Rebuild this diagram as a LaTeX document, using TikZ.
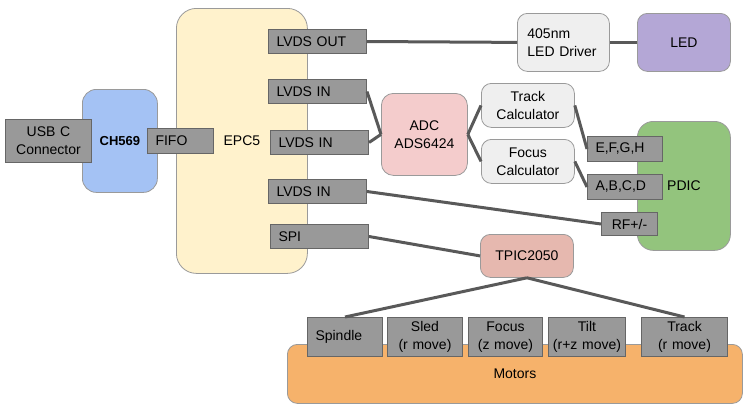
\documentclass[tikz,border=0pt]{standalone}
\usepackage{fontspec}
\setmainfont{Liberation Sans}
\definecolor{boxgray}{HTML}{999999}
\definecolor{boxborder}{HTML}{666666}
\definecolor{wirecol}{HTML}{595959}
\definecolor{rborder}{HTML}{9a9a9a}
\definecolor{cblue}{HTML}{A4C2F4}
\definecolor{cyellow}{HTML}{FFF2CC}
\definecolor{clight}{HTML}{EFEFEF}
\definecolor{cpurple}{HTML}{B4A7D6}
\definecolor{cpink}{HTML}{F4CCCC}
\definecolor{cgreen}{HTML}{93C47D}
\definecolor{cred}{HTML}{E6B8AF}
\definecolor{corange}{HTML}{F6B26B}
\tikzset{
  base/.style={anchor=north west, inner ysep=0pt, font=\fontsize{14}{18}\selectfont},
  gbox/.style={base, draw=boxborder, fill=boxgray, line width=1pt},
  gleft/.style={gbox, inner xsep=8pt, align=left},
  gcent/.style={gbox, inner xsep=0pt, align=center},
  rbox/.style={base, draw=rborder, line width=0.8pt, rounded corners=10pt, inner xsep=0pt, align=center},
  wire/.style={draw=wirecol, line width=3pt}
}
\begin{document}
\begin{tikzpicture}[x=1pt,y=-1pt]
\useasboundingbox (0,0) rectangle (744,405);
% big blocks
\node[rbox, fill=cyellow, rounded corners=20pt, minimum width=131pt, minimum height=265pt, text width=131pt] (epc) at (176,8) {EPC5};
\node[rbox, fill=cblue, rounded corners=14pt, minimum width=75pt, minimum height=103pt, text width=75pt, font=\fontsize{13}{16}\selectfont\bfseries] (ch) at (82,89) {\raisebox{-5pt}{CH569}};
\node[gcent, minimum width=86pt, minimum height=43pt, text width=86pt] (usb) at (5,119) {USB C\\Connector};
\node[gleft, minimum height=25pt, text width=50pt] (fifo) at (147,128) {FIFO};
\node[gleft, minimum height=24pt, text width=82pt] (lvdsout) at (268,29) {LVDS OUT};
\node[gleft, minimum height=24pt, text width=82pt] (lvdsina) at (268,79) {LVDS IN};
\node[gleft, minimum height=24pt, text width=82pt] (lvdsinb) at (270,130) {LVDS IN};
\node[gleft, minimum height=24pt, text width=82pt] (lvdsinc) at (268,179) {LVDS IN};
\node[gleft, minimum height=24pt, text width=82pt] (spi) at (270,224) {SPI};
% right side
\node[rbox, fill=clight, minimum height=58pt, text width=72pt, inner xsep=10pt, align=left] (drv) at (517,13) {405nm\\LED Driver};
\node[rbox, fill=cpurple, minimum width=93pt, minimum height=58pt, text width=93pt] (led) at (637,13) {LED};
\node[rbox, fill=cpink, rounded corners=12pt, minimum width=86pt, minimum height=82pt, text width=86pt] (adc) at (381,93) {ADC\\ADS6424};
\node[rbox, fill=clight, minimum width=93pt, minimum height=44pt, text width=93pt] (trk) at (481,83) {Track\\Calculator};
\node[rbox, fill=clight, minimum width=93pt, minimum height=44pt, text width=93pt] (foc) at (481,139) {Focus\\Calculator};
\node[rbox, fill=cgreen, rounded corners=16pt, minimum width=93pt, minimum height=129pt, text width=93pt] (pdic) at (637,121) {\raisebox{-5pt}{PDIC}};
\node[gleft, minimum height=25pt, text width=59pt] (efgh) at (587,136) {E,F,G,H};
\node[gleft, minimum height=25pt, text width=59pt] (abcd) at (587,174) {A,B,C,D};
\node[gcent, minimum width=56pt, minimum height=23pt, text width=56pt] (rf) at (601,212) {RF+/-};
\node[rbox, fill=cred, minimum width=93pt, minimum height=43pt, text width=93pt] (tpic) at (480,234) {TPIC2050};
% motors
\node[rbox, fill=corange, minimum width=455pt, minimum height=59pt, text width=455pt] (motors) at (287,344) {\raisebox{-4pt}{Motors}};
\node[gleft, minimum height=39pt, text width=59pt] (spindle) at (307,317) {Spindle};
\node[gcent, minimum width=75pt, minimum height=39pt, text width=75pt] (sled) at (387,317) {Sled\\(r move)};
\node[gcent, minimum width=74pt, minimum height=39pt, text width=74pt] (focus) at (468,317) {Focus\\(z move)};
\node[gcent, minimum width=77pt, minimum height=39pt, text width=77pt] (tilt) at (548,317) {Tilt\\(r+z move)};
\node[gcent, minimum width=86pt, minimum height=39pt, text width=86pt] (track) at (641,317) {Track\\(r move)};
% wires
\draw[wire] (lvdsout.east) -- (drv.west);
\draw[wire] (drv.east) -- (led.west);
\draw[wire] (lvdsina.east) -- (adc.west);
\draw[wire] (lvdsinb.east) -- (adc.west);
\draw[wire] (adc.east) -- (trk.west);
\draw[wire] (adc.east) -- (foc.west);
\draw[wire] (trk.east) -- (efgh.west);
\draw[wire] (foc.east) -- (abcd.west);
\draw[wire] (lvdsinc.east) -- (rf.west);
\draw[wire] (spi.east) -- (tpic.west);
\draw[wire] (tpic.south) -- (spindle.north);
\draw[wire] (tpic.south) -- (track.north);
\end{tikzpicture}
\end{document}
